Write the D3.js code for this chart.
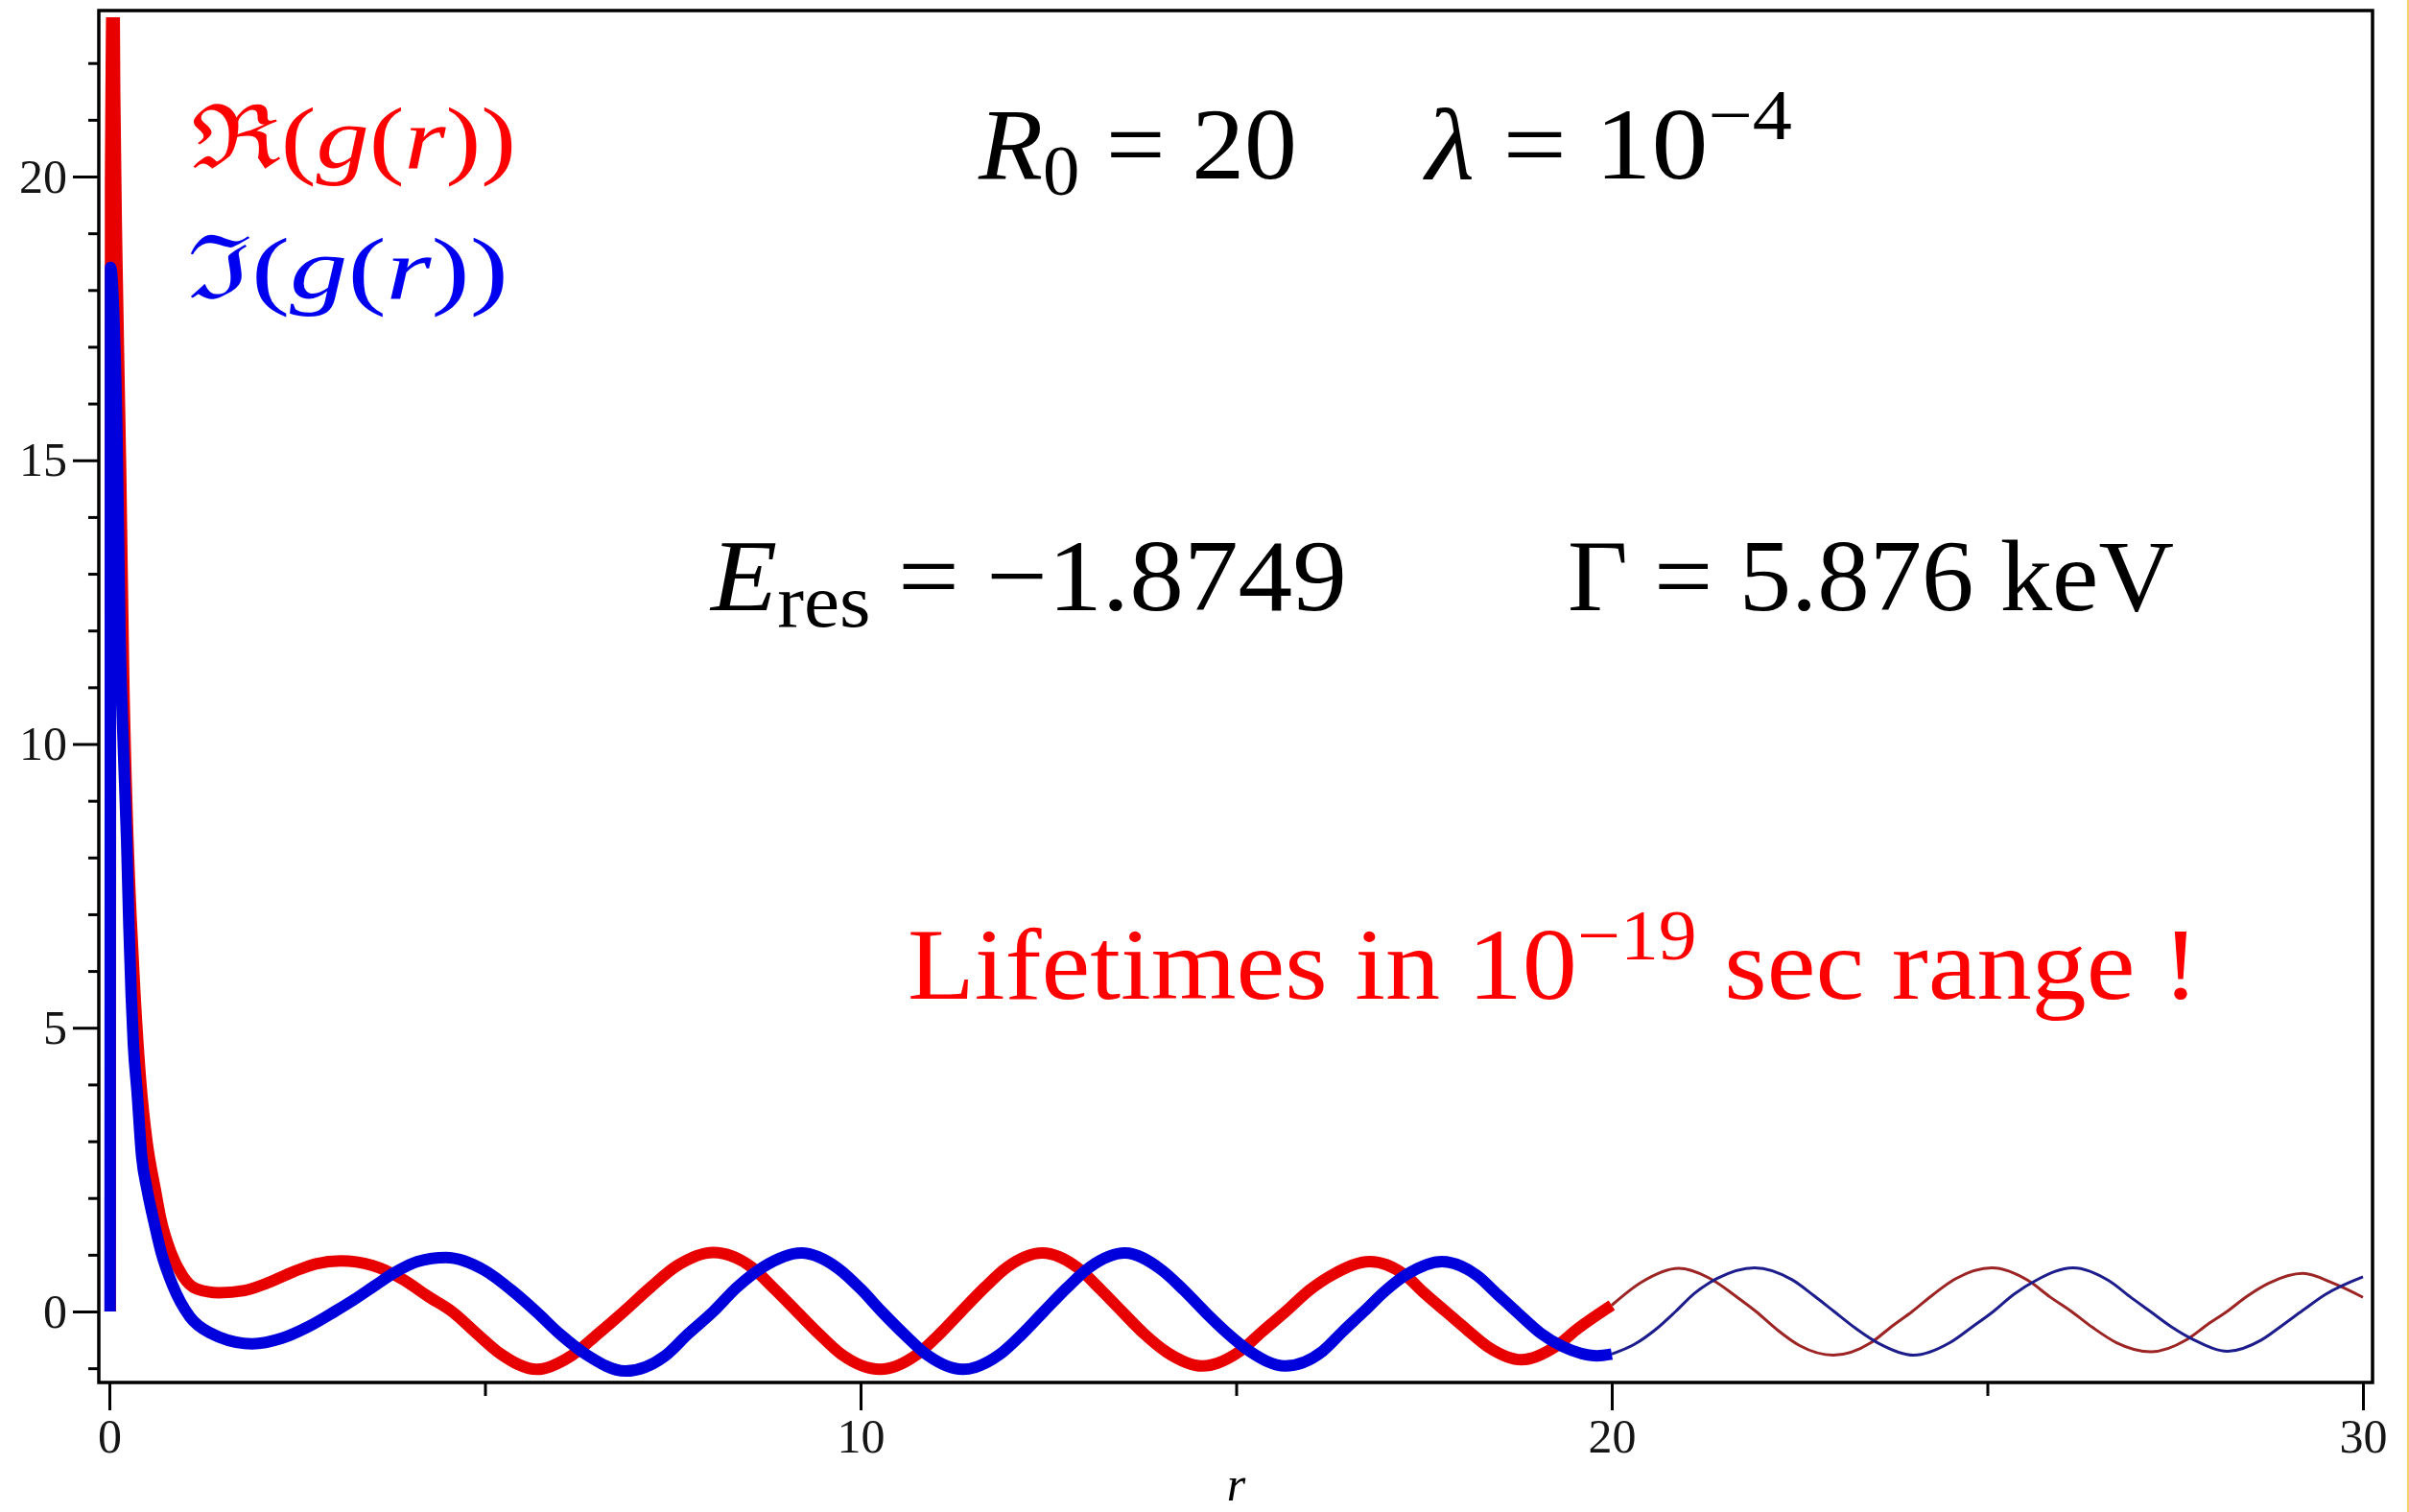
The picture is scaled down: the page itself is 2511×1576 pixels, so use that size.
<!DOCTYPE html>
<html>
<head>
<meta charset="utf-8">
<script src="https://cdn.jsdelivr.net/npm/d3@7"></script>
<style>
  body { margin: 0; background: #fff; }
  svg { display: block; }
  text { font-family: "Liberation Serif", "DejaVu Serif", serif; }
</style>
</head>
<body>
<div id="chart"></div>
<script>
// Axis ticks
const xTicks = [0, 10, 20, 30]
const xMinorTicks = [5, 15, 25]
const yTicks = [0, 5, 10, 15, 20]
const yMinorTicks = [-1, 1, 2, 3, 4, 6, 7, 8, 9, 11, 12, 13, 14, 16, 17, 18, 19, 21, 22]

// Re(g(r)) for r <= 20 (thick part), [r, value]
const reNear = [
  [0.012, 0.0], [0.016, 19.9], [0.055, 24.5], [0.07, 21.5], [0.10, 18.5], [0.15, 14.8],
  [0.19, 11.2], [0.24, 8.6], [0.29, 6.9], [0.34, 5.6], [0.42, 4.0], [0.50, 3.0],
  [0.61, 2.16], [0.69, 1.6], [0.82, 1.04], [0.97, 0.64], [1.16, 0.40], [1.46, 0.33],
  [1.80, 0.37], [2.10, 0.50], [2.45, 0.70], [2.75, 0.84], [3.08, 0.89], [3.50, 0.81],
  [3.90, 0.57], [4.25, 0.26], [4.56, 0.00], [4.90, -0.40], [5.20, -0.74], [5.69, -1.02],
  [6.15, -0.78], [6.50, -0.40], [6.85, 0.00], [7.20, 0.42], [7.55, 0.80], [8.04, 1.04],
  [8.55, 0.78], [8.85, 0.40], [9.15, 0.00], [9.45, -0.40], [9.75, -0.76], [10.26, -1.02],
  [10.75, -0.76], [11.05, -0.40], [11.34, 0.00], [11.65, 0.42], [11.95, 0.78], [12.42, 1.03],
  [12.90, 0.76], [13.20, 0.38], [13.48, 0.00], [13.78, -0.40], [14.08, -0.72], [14.55, -0.96],
  [15.05, -0.70], [15.35, -0.35], [15.66, 0.00], [15.98, 0.38], [16.30, 0.66], [16.78, 0.88],
  [17.25, 0.64], [17.50, 0.33], [17.79, 0.00], [18.08, -0.33], [18.35, -0.62], [18.80, -0.85],
  [19.25, -0.62], [19.55, -0.30], [20.00, 0.11]
]

// Re(g(r)) for r >= 20 (thin part)
const reFar = [
  [20.00, 0.11], [20.40, 0.52], [20.89, 0.76], [21.35, 0.55], [21.65, 0.27], [21.92, 0.00],
  [22.20, -0.32], [22.50, -0.60], [22.95, -0.77], [23.45, -0.55], [23.72, -0.27], [24.00, 0.00],
  [24.28, 0.30], [24.58, 0.58], [25.06, 0.77], [25.55, 0.54], [25.83, 0.26], [26.12, 0.00],
  [26.40, -0.28], [26.72, -0.55], [27.18, -0.71], [27.65, -0.50], [27.92, -0.24], [28.19, 0.00],
  [28.46, 0.27], [28.75, 0.50], [29.20, 0.67], [29.60, 0.50], [30.00, 0.25]
]

// Im(g(r)) for r <= 20 (thick part)
const imNear = [
  [0.010, 0.0], [0.015, 18.4], [0.06, 17.5], [0.10, 15.5], [0.14, 12.0], [0.19, 9.8],
  [0.23, 8.3], [0.26, 6.8], [0.29, 5.6], [0.32, 4.7], [0.37, 3.85], [0.43, 2.73],
  [0.50, 2.16], [0.59, 1.6], [0.69, 1.04], [0.84, 0.47], [1.07, -0.09], [1.33, -0.37],
  [1.90, -0.57], [2.30, -0.47], [2.66, -0.26], [3.00, 0.00], [3.27, 0.22], [3.55, 0.47],
  [3.79, 0.68], [4.10, 0.88], [4.48, 0.95], [5.00, 0.72], [5.35, 0.38], [5.68, 0.00],
  [6.00, -0.40], [6.35, -0.76], [6.87, -1.05], [7.40, -0.78], [7.70, -0.40], [8.04, 0.00],
  [8.35, 0.42], [8.70, 0.78], [9.21, 1.03], [9.70, 0.76], [10.00, 0.40], [10.28, 0.00],
  [10.58, -0.40], [10.88, -0.76], [11.36, -1.02], [11.85, -0.76], [12.15, -0.40], [12.44, 0.00],
  [12.75, 0.42], [13.05, 0.78], [13.52, 1.03], [14.00, 0.74], [14.30, 0.38], [14.58, 0.00],
  [14.88, -0.38], [15.18, -0.70], [15.65, -0.96], [16.15, -0.70], [16.42, -0.35], [16.70, 0.00],
  [17.00, 0.38], [17.28, 0.66], [17.74, 0.88], [18.20, 0.64], [18.48, 0.30], [18.76, -0.04],
  [19.05, -0.38], [19.35, -0.62], [19.80, -0.78], [20.00, -0.75]
]

// Im(g(r)) for r >= 20 (thin part)
const imFar = [
  [20.00, -0.75], [20.30, -0.58], [20.60, -0.30], [20.85, 0.00], [21.10, 0.32], [21.40, 0.58],
  [21.90, 0.77], [22.40, 0.56], [22.70, 0.27], [22.96, 0.00], [23.25, -0.30], [23.55, -0.56],
  [24.02, -0.77], [24.50, -0.55], [24.80, -0.27], [25.08, 0.00], [25.35, 0.30], [25.65, 0.55],
  [26.14, 0.77], [26.62, 0.54], [26.90, 0.26], [27.17, 0.00], [27.45, -0.27], [27.75, -0.50],
  [28.20, -0.70], [28.65, -0.50], [28.93, -0.24], [29.20, 0.02], [29.50, 0.30], [30.00, 0.61]
]

const width = 2511, height = 1576
const frame = {left: 103, right: 2473, top: 11, bottom: 1441}

var svg = d3.select("#chart")
  .append("svg")
  .attr("width", width)
  .attr("height", height)

svg.append("rect").attr("width", width).attr("height", height).attr("fill", "#fff")

const x = d3.scaleLinear()
  .domain([0, 30])
  .range([114, 2463])
const y = d3.scaleLinear()
  .domain([0, 20])
  .range([1367, 184])

// Clip the curves to the plot box
svg.append("clipPath").attr("id", "plotclip")
  .append("rect")
  .attr("x", frame.left + 2).attr("y", 18)
  .attr("width", frame.right - frame.left - 4)
  .attr("height", frame.bottom - 18 - 2)

const line = d3.line()
  .x(d => x(d[0]))
  .y(d => y(d[1]))
  .curve(d3.curveMonotoneX)

const curves = svg.append("g").attr("clip-path", "url(#plotclip)")

// thick parts
curves.append("path")
  .attr("d", line(reNear))
  .attr("fill", "none")
  .attr("stroke", "#e80000")
  .attr("stroke-width", 12)
  .attr("stroke-linejoin", "round")
curves.append("path")
  .attr("d", line(imNear))
  .attr("fill", "none")
  .attr("stroke", "#0000dc")
  .attr("stroke-width", 12)
  .attr("stroke-linejoin", "round")

// thin parts
curves.append("path")
  .attr("d", line(reFar))
  .attr("fill", "none")
  .attr("stroke", "#9c2424")
  .attr("stroke-width", 3)
curves.append("path")
  .attr("d", line(imFar))
  .attr("fill", "none")
  .attr("stroke", "#1c1c8c")
  .attr("stroke-width", 3)

// Axes
const yAxis = svg.append("g")
  .attr("transform", "translate(" + frame.left + ",0)")
  .call(d3.axisLeft(y).tickValues(yTicks).tickSize(27).tickPadding(6).tickFormat(d3.format("d")))
yAxis.append("g")
  .call(d3.axisLeft(y).tickValues(yMinorTicks).tickSize(11).tickFormat(""))

const xAxis = svg.append("g")
  .attr("transform", "translate(0," + frame.bottom + ")")
  .call(d3.axisBottom(x).tickValues(xTicks).tickSize(29).tickPadding(8).tickFormat(d3.format("d")))
xAxis.append("g")
  .call(d3.axisBottom(x).tickValues(xMinorTicks).tickSize(14).tickFormat(""))

svg.selectAll(".domain").remove()
svg.selectAll(".tick line").attr("stroke", "#000").attr("stroke-width", 3)
svg.selectAll(".tick text")
  .attr("font-family", "Liberation Serif")
  .attr("font-size", 50)
  .attr("fill", "#151515")

// Frame
svg.append("rect")
  .attr("x", frame.left).attr("y", frame.top)
  .attr("width", frame.right - frame.left)
  .attr("height", frame.bottom - frame.top)
  .attr("fill", "none")
  .attr("stroke", "#000")
  .attr("stroke-width", 3.5)

// yellow edge on the right
svg.append("rect").attr("x", 2509).attr("y", 0).attr("width", 2).attr("height", height).attr("fill", "#f2d36b")

// x axis title
svg.append("text")
  .attr("x", x(15))
  .attr("y", 1564)
  .attr("text-anchor", "middle")
  .attr("font-size", 50)
  .attr("font-style", "italic")
  .text("r")

// Text with sub/superscript pieces
function richText(parts, opts) {
  const t = svg.append("text")
    .attr("x", opts.x)
    .attr("y", opts.y)
    .attr("font-size", opts.size)
    .attr("fill", opts.color)
  if (opts.width) t.attr("textLength", opts.width).attr("lengthAdjust", "spacingAndGlyphs")
  let shift = 0
  parts.forEach(p => {
    const s = t.append("tspan").text(p.t)
    const dy = (p.dy || 0) - shift
    if (dy) s.attr("dy", dy)
    shift = p.dy || 0
    if (p.italic) s.attr("font-style", "italic")
    if (p.size) s.attr("font-size", p.size)
    if (p.family) s.attr("font-family", p.family)
  })
}

// legend
richText([
  {t: "\u211C", family: "DejaVu Serif"}, {t: "("}, {t: "g", italic: true}, {t: "("},
  {t: "r", italic: true}, {t: "))"}
], {x: 199, y: 175, size: 92, color: "#f00", width: 339})
richText([
  {t: "\u2111", family: "DejaVu Serif"}, {t: "("}, {t: "g", italic: true}, {t: "("},
  {t: "r", italic: true}, {t: "))"}
], {x: 195, y: 311, size: 92, color: "#0000f0", width: 335})

// parameters
richText([
  {t: "R", italic: true}, {t: "0", dy: 17, size: 74}, {t: " = 20"}
], {x: 1020, y: 186, size: 106, color: "#000", width: 332})
richText([
  {t: "\u03BB", italic: true}, {t: " = 10"}, {t: "\u22124", dy: -41, size: 74}
], {x: 1486, y: 186, size: 106, color: "#000", width: 382})

richText([
  {t: "E", italic: true}, {t: "res", dy: 17, size: 78}, {t: " = \u22121.8749"}
], {x: 741, y: 636, size: 106, color: "#000", width: 663})
richText([
  {t: "\u0393 = 5.876 keV"}
], {x: 1634, y: 636, size: 106, color: "#000", width: 632})

richText([
  {t: "Lifetimes in 10"}, {t: "\u221219", dy: -41, size: 74}, {t: " sec range !"}
], {x: 946, y: 1041, size: 106, color: "#f00", width: 1346})
</script>
</body>
</html>
